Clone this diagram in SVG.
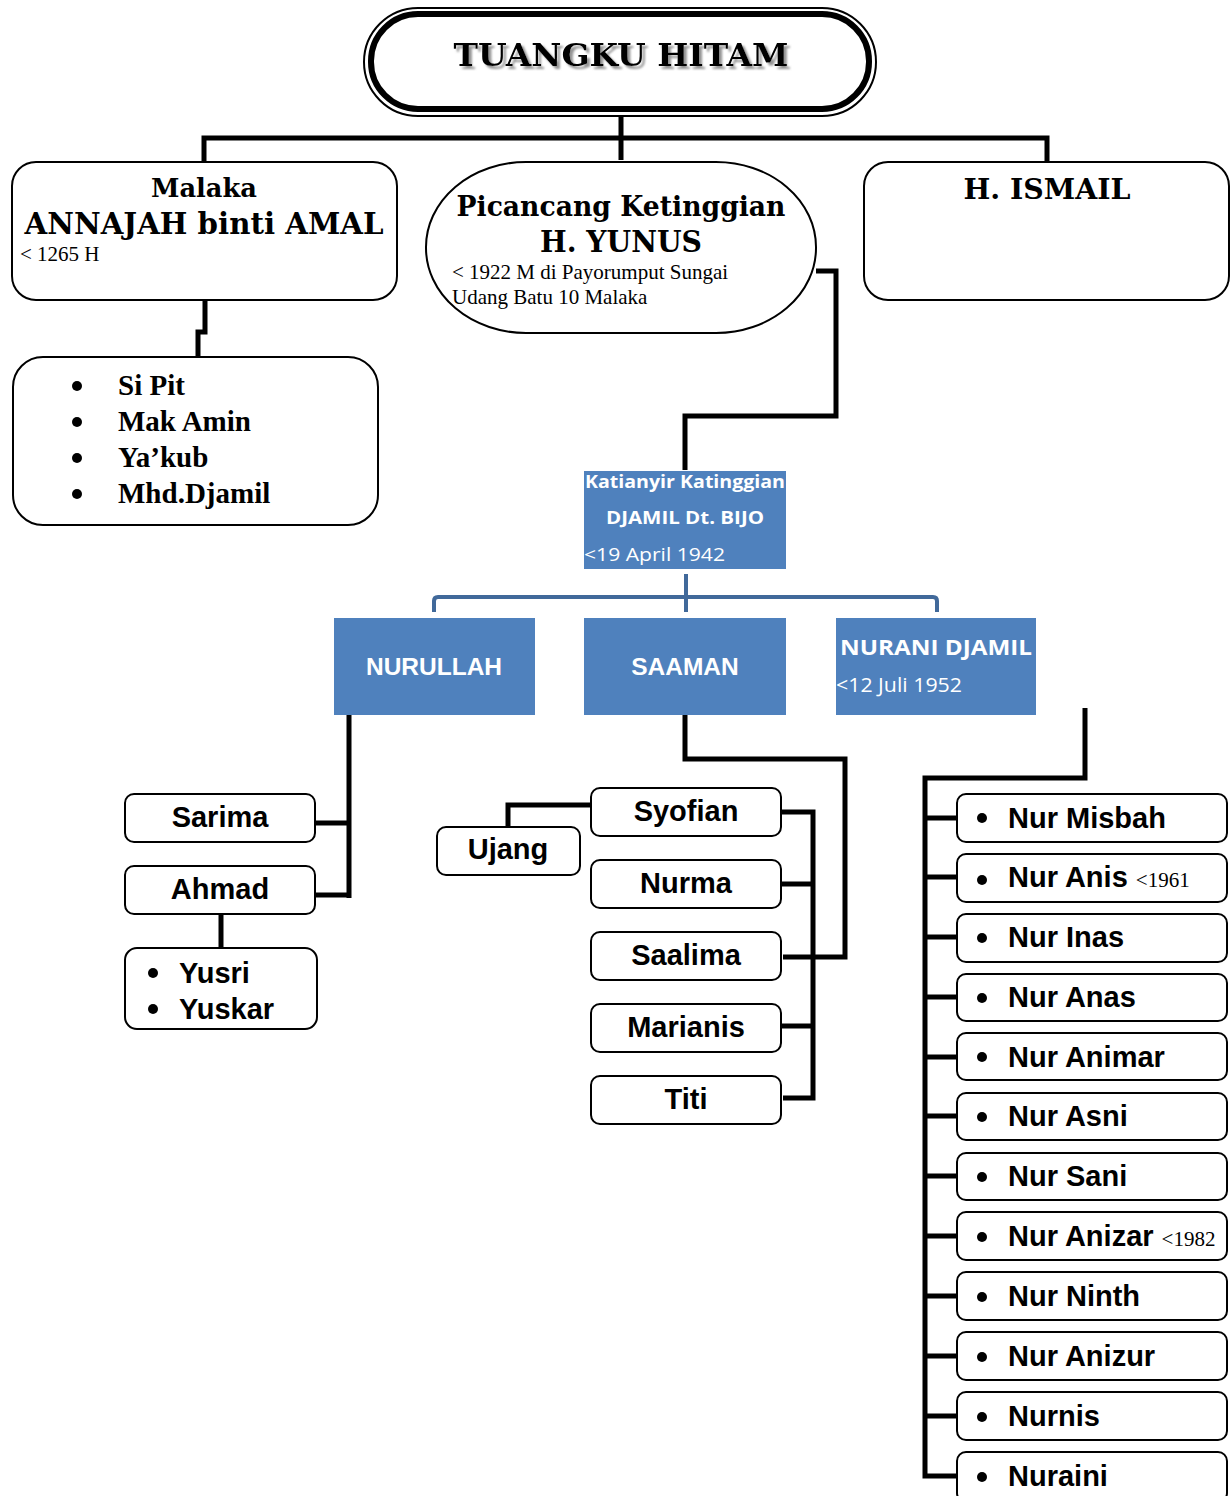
<svg xmlns="http://www.w3.org/2000/svg" width="1232" height="1496" viewBox="0 0 1232 1496">
<style>
.bx{fill:#fff;stroke:#000;stroke-width:2}
.blue{fill:#4F81BD}
.ln{fill:none;stroke:#000;stroke-width:5;stroke-linejoin:miter}
.bl{fill:none;stroke:#41699A;stroke-width:4}
.ser{font-family:"DejaVu Serif","Liberation Serif",serif;font-weight:bold;fill:#000}
.tm{font-family:"Liberation Serif","Times New Roman",serif;fill:#000}
.tmb{font-family:"Liberation Serif","Times New Roman",serif;font-weight:bold;fill:#000;font-size:29px}
.ar{font-family:"Liberation Sans",Arial,sans-serif;font-weight:bold;fill:#000;font-size:29px}
.wt{font-family:"Open Sans","Noto Sans",sans-serif;fill:#fff}
.mid{text-anchor:middle}
</style>
<defs>
<circle id="dot" r="5" fill="#000"/>
<filter id="shadow" x="-5%" y="-20%" width="110%" height="140%">
<feDropShadow dx="3" dy="3" stdDeviation="0.8" flood-color="#888" flood-opacity="0.9"/>
</filter>
</defs>
<g id="connectors">
<path class="ln" d="M621,112 V160 M204,162 V138 H1047 V162"/>
<path class="ln" d="M205,300 V332 H198 V357"/>
<path class="ln" d="M816,271 H836 V416 H685 V470"/>
<path class="bl" d="M686,574 V612 M434,612 V601 Q434,597 438,597 H933 Q937,597 937,601 V612"/>
<path class="ln" d="M349,708 V898 M315,823 H349 M315,895 H349"/>
<path class="ln" d="M221,914 V948"/>
<path class="ln" d="M685,708 V759 H845 V957 H783"/>
<path class="ln" d="M781,812 H813 V1098 H783 M781,884 H813 M781,1026 H813"/>
<path class="ln" d="M508,827 V805 H591"/>
<path class="ln" d="M1085,708 V778 H925 V1476 H957 M925,818 H957 M925,877 H957 M925,937 H957 M925,997 H957 M925,1057 H957 M925,1116 H957 M925,1176 H957 M925,1236 H957 M925,1296 H957 M925,1356 H957 M925,1416 H957"/>
</g>
<g id="tuangku">
<rect x="364" y="8" width="512" height="108" rx="54" fill="#fff" stroke="#000" stroke-width="2"/>
<rect x="371" y="14" width="498" height="95" rx="47" fill="none" stroke="#000" stroke-width="6"/>
<text class="ser mid" x="621" y="66" font-size="32" filter="url(#shadow)" textLength="335" lengthAdjust="spacingAndGlyphs">TUANGKU HITAM</text>
</g>
<g id="malaka">
<rect class="bx" x="12" y="162" width="385" height="138" rx="24"/>
<text class="ser mid" x="204" y="197" font-size="26" textLength="106" lengthAdjust="spacingAndGlyphs">Malaka</text>
<text class="ser mid" x="204" y="234" font-size="29" textLength="359" lengthAdjust="spacingAndGlyphs">ANNAJAH binti AMAL</text>
<text class="tm" x="20" y="261" font-size="21">&lt; 1265 H</text>
</g>
<g id="malaka-children">
<rect class="bx" x="13" y="357" width="365" height="168" rx="30"/>
<use href="#dot" x="77" y="386"/><use href="#dot" x="77" y="422"/><use href="#dot" x="77" y="458"/><use href="#dot" x="77" y="494"/>
<text class="tmb" x="118" y="395">Si Pit</text>
<text class="tmb" x="118" y="431">Mak Amin</text>
<text class="tmb" x="118" y="467">Ya’kub</text>
<text class="tmb" x="118" y="503">Mhd.Djamil</text>
</g>
<g id="yunus">
<rect class="bx" x="426" y="162" width="390" height="171" rx="100" ry="85"/>
<text class="ser mid" x="621" y="216" font-size="27" textLength="329" lengthAdjust="spacingAndGlyphs">Picancang Ketinggian</text>
<text class="ser mid" x="621" y="252" font-size="30" textLength="162" lengthAdjust="spacingAndGlyphs">H. YUNUS</text>
<text class="tm" x="452" y="279" font-size="21">&lt; 1922 M di Payorumput Sungai</text>
<text class="tm" x="452" y="304" font-size="21">Udang Batu 10 Malaka</text>
</g>
<g id="ismail">
<rect class="bx" x="864" y="162" width="365" height="138" rx="24"/>
<text class="ser mid" x="1047" y="199" font-size="27" textLength="167" lengthAdjust="spacingAndGlyphs">H. ISMAIL</text>
</g>
<g id="katianyir">
<rect class="blue" x="584" y="471" width="202" height="98"/>
<text class="wt mid" x="685" y="488" font-size="18" font-weight="bold" textLength="200" lengthAdjust="spacingAndGlyphs">Katianyir Katinggian</text>
<text class="wt mid" x="685" y="524" font-size="18" font-weight="bold" textLength="158" lengthAdjust="spacingAndGlyphs">DJAMIL Dt. BIJO</text>
<text class="wt" x="584" y="561" font-size="19" textLength="141" lengthAdjust="spacingAndGlyphs">&lt;19 April 1942</text>
</g>
<g id="nurullah">
<rect class="blue" x="334" y="618" width="201" height="97"/>
<text class="ar mid" x="434" y="675" font-size="24.5" style="fill:#fff;font-size:24.5px">NURULLAH</text>
</g>
<g id="saaman">
<rect class="blue" x="584" y="618" width="202" height="97"/>
<text class="ar mid" x="685" y="675" style="fill:#fff;font-size:24.5px">SAAMAN</text>
</g>
<g id="nurani">
<rect class="blue" x="836" y="618" width="200" height="97"/>
<text class="wt" x="840" y="655" font-size="21" font-weight="bold" textLength="192" lengthAdjust="spacingAndGlyphs">NURANI DJAMIL</text>
<text class="wt" x="836" y="692" font-size="20" textLength="126" lengthAdjust="spacingAndGlyphs">&lt;12 Juli 1952</text>
</g>
<g id="sarima"><rect class="bx" x="125" y="794" width="190" height="48" rx="9"/><text class="ar mid" x="220" y="827">Sarima</text></g>
<g id="ahmad"><rect class="bx" x="125" y="866" width="190" height="48" rx="9"/><text class="ar mid" x="220" y="899">Ahmad</text></g>
<g id="yusri">
<rect class="bx" x="125" y="948" width="192" height="81" rx="12"/>
<use href="#dot" x="153" y="973"/><use href="#dot" x="153" y="1009"/>
<text class="ar" x="179" y="983">Yusri</text>
<text class="ar" x="179" y="1019">Yuskar</text>
</g>
<g id="ujang"><rect class="bx" x="437" y="827" width="143" height="48" rx="9"/><text class="ar mid" x="508" y="859">Ujang</text></g>
<g id="syofian"><rect class="bx" x="591" y="788" width="190" height="48" rx="9"/><text class="ar mid" x="686" y="821">Syofian</text></g>
<g id="nurma"><rect class="bx" x="591" y="860" width="190" height="48" rx="9"/><text class="ar mid" x="686" y="893">Nurma</text></g>
<g id="saalima"><rect class="bx" x="591" y="932" width="190" height="48" rx="9"/><text class="ar mid" x="686" y="965">Saalima</text></g>
<g id="marianis"><rect class="bx" x="591" y="1004" width="190" height="48" rx="9"/><text class="ar mid" x="686" y="1037">Marianis</text></g>
<g id="titi"><rect class="bx" x="591" y="1076" width="190" height="48" rx="9"/><text class="ar mid" x="686" y="1109">Titi</text></g>
<g id="nur-misbah"><rect class="bx" x="957" y="794" width="270" height="48" rx="9"/><use href="#dot" x="982" y="818"/><text class="ar" x="1008" y="828">Nur Misbah</text></g>
<g id="nur-anis"><rect class="bx" x="957" y="854" width="270" height="48" rx="9"/><use href="#dot" x="982" y="880"/><text class="ar" x="1008" y="887">Nur Anis <tspan class="tm" font-weight="normal" style="font-size:21px">&lt;1961</tspan></text></g>
<g id="nur-inas"><rect class="bx" x="957" y="914" width="270" height="48" rx="9"/><use href="#dot" x="982" y="938"/><text class="ar" x="1008" y="947">Nur Inas</text></g>
<g id="nur-anas"><rect class="bx" x="957" y="974" width="270" height="47" rx="9"/><use href="#dot" x="982" y="998"/><text class="ar" x="1008" y="1007">Nur Anas</text></g>
<g id="nur-animar"><rect class="bx" x="957" y="1033" width="270" height="47" rx="9"/><use href="#dot" x="982" y="1057"/><text class="ar" x="1008" y="1067">Nur Animar</text></g>
<g id="nur-asni"><rect class="bx" x="957" y="1093" width="270" height="47" rx="9"/><use href="#dot" x="982" y="1117"/><text class="ar" x="1008" y="1126">Nur Asni</text></g>
<g id="nur-sani"><rect class="bx" x="957" y="1153" width="270" height="47" rx="9"/><use href="#dot" x="982" y="1177"/><text class="ar" x="1008" y="1186">Nur Sani</text></g>
<g id="nur-anizar"><rect class="bx" x="957" y="1212" width="270" height="48" rx="9"/><use href="#dot" x="982" y="1237"/><text class="ar" x="1008" y="1246">Nur Anizar <tspan class="tm" font-weight="normal" style="font-size:21px">&lt;1982</tspan></text></g>
<g id="nur-ninth"><rect class="bx" x="957" y="1272" width="270" height="48" rx="9"/><use href="#dot" x="982" y="1297"/><text class="ar" x="1008" y="1306">Nur Ninth</text></g>
<g id="nur-anizur"><rect class="bx" x="957" y="1332" width="270" height="48" rx="9"/><use href="#dot" x="982" y="1357"/><text class="ar" x="1008" y="1366">Nur Anizur</text></g>
<g id="nurnis"><rect class="bx" x="957" y="1392" width="270" height="48" rx="9"/><use href="#dot" x="982" y="1417"/><text class="ar" x="1008" y="1426">Nurnis</text></g>
<g id="nuraini"><rect class="bx" x="957" y="1452" width="270" height="50" rx="9"/><use href="#dot" x="982" y="1477"/><text class="ar" x="1008" y="1486">Nuraini</text></g>
</svg>
